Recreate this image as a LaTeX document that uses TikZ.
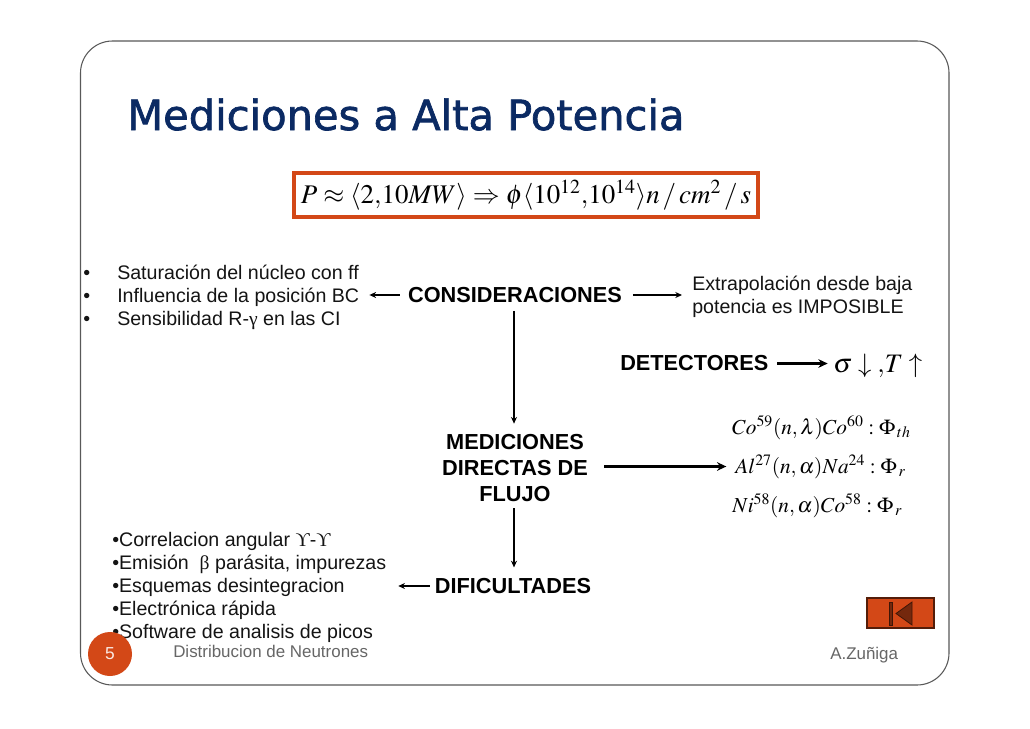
\documentclass[tikz,border=0pt]{standalone}
\usepackage[no-math]{fontspec}
\usepackage{mathptmx}
\setmainfont{Liberation Sans}
\newfontfamily\titlefont{DejaVu Sans}
\newfontfamily\symfont{Liberation Serif}
\usetikzlibrary{arrows.meta}
\definecolor{accent}{HTML}{D34817}
\definecolor{navy}{HTML}{0B2A63}
\definecolor{foot}{HTML}{666666}
\tikzset{
  x=0.75pt,y=-0.75pt,
  body/.style={inner sep=0pt,anchor=base west,font=\fontsize{14.7}{17}\selectfont,text=black!92},
  strong/.style={inner sep=0pt,font=\fontsize{16.3}{19.8}\selectfont\bfseries,text=black,align=center},
  eqn/.style={inner sep=0pt,anchor=base west,font=\fontsize{16}{19}\selectfont},
  footer/.style={inner sep=0pt,anchor=base west,font=\fontsize{12.7}{15}\selectfont,text=foot},
  thin arrow/.style={draw=black,line width=0.8pt,-{Stealth[length=5pt,width=4.5pt]}},
  thick arrow/.style={draw=black,line width=2pt,-{Stealth[length=7pt,width=6.5pt]}},
}
\begin{document}
\begin{tikzpicture}
\useasboundingbox (0,0) rectangle (1030,728);
\fill[white] (0,0) rectangle (1030,728);
% slide frame
\draw[draw=black!65,line width=0.8pt,rounded corners=24pt] (80.5,41) rectangle (949,685);
% title
\node[inner sep=0pt,anchor=base west,font=\titlefont\fontsize{31.2}{36}\selectfont,text=navy] (title) at (127,130) {\special{pdf:code q 2 Tr 0.5 w 0.043 0.165 0.388 RG}Mediciones a Alta Potencia\special{pdf:code 0 Tr Q}};
% formula box
\node[draw=accent,line width=3pt,minimum width=348pt,minimum height=33.5pt,inner sep=0pt,font=\fontsize{20.2}{24}\selectfont] (formula) at (526,195)
 {$P\approx\langle 2{,}10MW\rangle\Rightarrow\phi\langle 10^{12}{,}10^{14}\rangle n\,/\,cm^{2}\,/\,s$};
% left list
\node[body] (b1) at (83,279) {•};
\node[body] (b2) at (83,302) {•};
\node[body] (b3) at (83,325) {•};
\node[body] (sat) at (117,279) {Saturación del núcleo con ff};
\node[body] (infl) at (117,302) {Influencia de la posición BC};
\node[body] (sens) at (117,325) {Sensibilidad R-{\symfont γ} en las CI};
% central nodes
\node[strong] (cons) at (515,295) {CONSIDERACIONES};
\node[strong] (med) at (515,468) {MEDICIONES\\DIRECTAS DE\\FLUJO};
\node[strong] (dif) at (513,586) {DIFICULTADES};
\node[strong,anchor=base west] (det) at (620,370) {DETECTORES};
% right text
\node[body,font=\fontsize{14.7}{17.3}\selectfont,align=left,anchor=west] (ext) at (692,297) {Extrapolación desde baja\\potencia es IMPOSIBLE};
\node[inner sep=0pt,anchor=base west,font=\fontsize{20}{24}\selectfont] (sig) at (833,372) {$\sigma\downarrow{,}T\uparrow$};
\node[eqn] (co) at (732,434) {$Co^{59}(n,\lambda)Co^{60}:\Phi_{\,th}$};
\node[eqn] (al) at (735,473) {$Al^{27}(n,\alpha)Na^{24}:\Phi_{\,r}$};
\node[eqn] (ni) at (732,512) {$Ni^{58}(n,\alpha)Co^{58}:\Phi_{\,r}$};
% lower left list
\node[body] (l1) at (112,546) {•Correlacion angular {\symfont ϒ}-{\symfont ϒ}};
\node[body] (l2) at (112,569) {•Emisión\ \ {\symfont β} parásita, impurezas};
\node[body] (l3) at (112,592) {•Esquemas desintegracion};
\node[body] (l4) at (112,615) {•Electrónica rápida};
\node[body] (l5) at (112,638) {•Software de analisis de picos};
% connectors
\draw[thin arrow,shorten <=6pt,shorten >=7.5pt] (cons.west) -- (cons.west -| infl.east);
\draw[thin arrow,shorten <=8pt,shorten >=7.5pt] (cons.east) -- (cons.east -| ext.west);
\draw[thin arrow,shorten <=6pt,shorten >=7.5pt] (514,0 |- cons.south) -- (514,0 |- med.north);
\draw[thin arrow,shorten <=4.5pt,shorten >=8pt] (514,0 |- med.south) -- (514,0 |- dif.north);
\draw[thin arrow,shorten <=3.7pt,shorten >=40pt] (dif.west) -- (dif.west -| l3.east);
\draw[thick arrow,shorten <=6.5pt,shorten >=4pt] (det.east |- 0,363.5) -- (sig.west |- 0,363.5);
\draw[thick arrow,shorten <=12pt,shorten >=6.5pt] (med.east |- 0,466.5) -- (al.west |- 0,466.5);
% footer
\node[circle,fill=accent,minimum size=33pt,inner sep=0pt,text=white!88!accent,font=\fontsize{13}{15}\selectfont] (num) at (110,654) {5};
\node[footer] (dist) at (173,657) {Distribucion de Neutrones};
\node[footer] (autor) at (830,659) {A.Zuñiga};
% return button
\draw[fill=accent,draw=black!60!accent,line width=0.8pt] (867,598) rectangle (934,628);
\draw[fill=black!45!accent,draw=black!70!accent,line width=0.6pt] (889.5,602) rectangle (892,625);
\draw[fill=black!45!accent,draw=black!70!accent,line width=0.6pt] (912,602) -- (912,625) -- (896,613.5) -- cycle;
\end{tikzpicture}
\end{document}
